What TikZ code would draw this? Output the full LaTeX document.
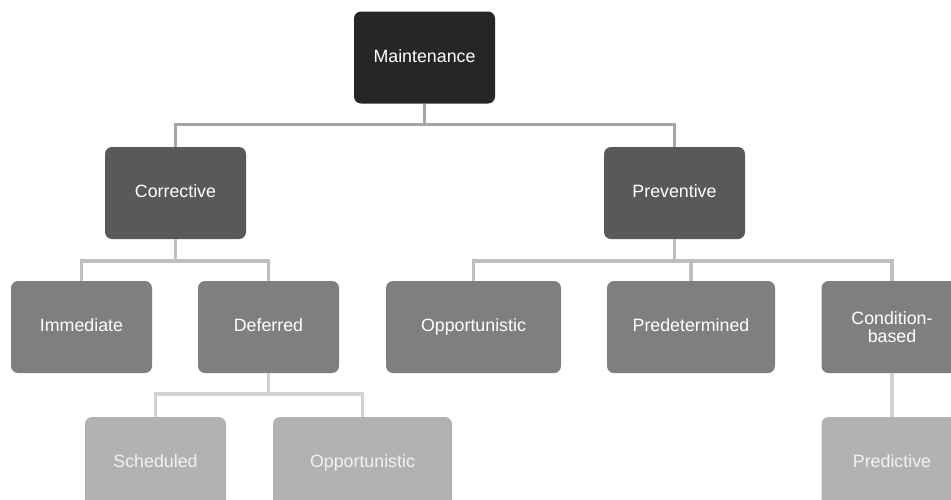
\documentclass[tikz,border=0pt]{standalone}
\usepackage{fontspec}
\setmainfont{Liberation Sans}
\definecolor{boxA}{HTML}{262626}
\definecolor{boxB}{HTML}{595959}
\definecolor{boxC}{HTML}{7F7F7F}
\definecolor{boxD}{HTML}{B2B2B2}
\definecolor{lineA}{HTML}{A5A5A5}
\definecolor{lineB}{HTML}{BFBFBF}
\definecolor{lineC}{HTML}{D2D2D2}
\tikzset{
  card/.style={rounded corners=7pt, inner sep=0pt, minimum height=92pt,
    text=white, align=center,
    font=\fontsize{17.8pt}{18.4pt}\selectfont},
  oneline/.style={text height=12.8pt, text depth=3.6pt},
  tierA/.style={card, oneline, fill=boxA},
  tierB/.style={card, oneline, fill=boxB},
  tierC/.style={card, oneline, fill=boxC},
  tierD/.style={card, oneline, fill=boxD, text=white!95!black},
  link/.style={line width=3.5pt},
  linkA/.style={link, draw=lineA},
  linkB/.style={link, draw=lineB},
  linkC/.style={link, draw=lineC},
}
\begin{document}
\begin{tikzpicture}[x=1pt, y=-1pt]
\useasboundingbox (0,0) rectangle (951,499);
\clip (0,0) rectangle (951,499);

% root
\node[tierA, minimum width=141pt] (maint) at (424.5,57.5) {Maintenance};

% first tier
\node[tierB, minimum width=141pt] (corr) at (175.5,193) {Corrective};
\node[tierB, minimum width=141pt] (prev) at (674.5,193) {Preventive};

% second tier
\node[tierC, minimum width=141pt] (imm)  at (81.5,327)  {Immediate};
\node[tierC, minimum width=141pt] (defr) at (268.5,327) {Deferred};
\node[tierC, minimum width=175pt] (opp)  at (473.5,327) {Opportunistic};
\node[tierC, minimum width=168pt] (pred) at (691,327)   {Predetermined};
\node[card, fill=boxC, minimum width=141pt] (cond) at (892,327) {Condition-\\based};

% third tier
\node[tierD, minimum width=141pt] (sched) at (155.5,463) {Scheduled};
\node[tierD, minimum width=179pt] (oppb)  at (362.5,463) {Opportunistic};
\node[tierD, minimum width=141pt] (pdv)   at (892,463)   {Predictive};

% connectors
\draw[linkA] (maint.south) -- ++(0,21) -| (corr.north);
\draw[linkA] (maint.south) -- ++(0,21) -| (prev.north);

\draw[linkB] (corr.south) -- ++(0,22) -| (imm.north);
\draw[linkB] (corr.south) -- ++(0,22) -| (defr.north);
\draw[linkB] (prev.south) -- ++(0,22) -| (opp.north);
\draw[linkB] (prev.south) -- ++(0,22) -| (pred.north);
\draw[linkB] (prev.south) -- ++(0,22) -| (cond.north);

\draw[linkC] (defr.south) -- ++(0,21) -| (sched.north);
\draw[linkC] (defr.south) -- ++(0,21) -| (oppb.north);
\draw[linkC] (cond.south) -- (pdv.north);
\end{tikzpicture}
\end{document}
